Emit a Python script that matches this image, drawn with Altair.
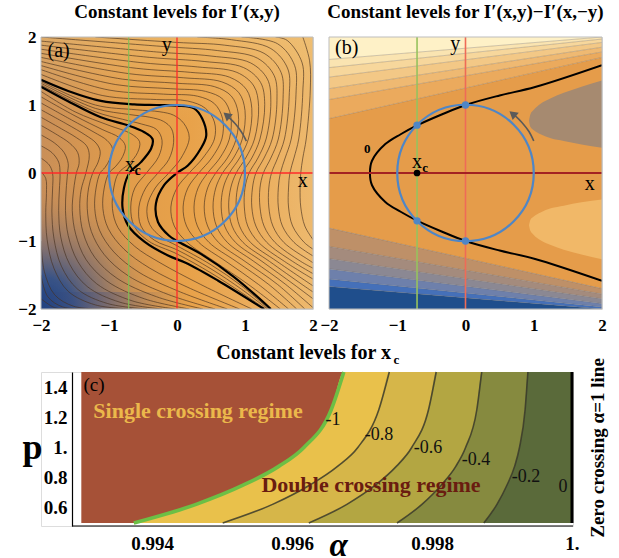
import altair as alt
import pandas as pd

SERIF = "Liberation Serif"

# ======================= shared geometry =======================
BOX = [-2.0, 2.0]
TICKS_AB = [-2, -1, 0, 1, 2]
XC = -0.71
CIRCLE_R = 1.0
W_A, H_A = 272, 272
W_B, H_B = 273, 272
TITLE_Y = 2.28          # baseline of the panel titles (data units above the box)

# ======================= panel (a) data =======================
thickA_x = [-2.0, -1.61, -1.12, -0.63, -0.30, 0.0, 0.25, 0.37, 0.43, 0.35, 0.16, 0.0, -0.19, -0.31, -0.28, -0.12, 0.0, 0.35, 0.84, 1.38]
thickA_y = [1.37, 1.21, 1.06, 1.01, 1.00, 0.99, 0.95, 0.80, 0.55, 0.36, 0.11, 0.0, -0.18, -0.45, -0.72, -0.92, -1.0, -1.19, -1.53, -2.0]
thickB_x = [-2.0, -1.61, -1.12, -0.72, -0.48, -0.36, -0.38, -0.53, -0.70, -0.78, -0.80, -0.72, -0.48, -0.14, 0.15, 0.60, 1.28]
thickB_y = [1.27, 1.06, 0.82, 0.70, 0.60, 0.50, 0.36, 0.16, 0.0, -0.22, -0.52, -0.77, -1.01, -1.21, -1.33, -1.58, -2.0]

thinR_x = [
    [-2, -1.1, -0.3, 0.15, 0.42, 0.55, 0.55, 0.38, 0.18, 0.0, -0.09, -0.04, 0.15, 0.55, 1.05, 1.52],
    [-2, -1.0, -0.2, 0.30, 0.55, 0.67, 0.66, 0.51, 0.32, 0.16, 0.09, 0.14, 0.32, 0.72, 1.20, 1.64],
    [-2, -0.9, -0.1, 0.42, 0.68, 0.79, 0.77, 0.63, 0.45, 0.31, 0.25, 0.30, 0.47, 0.87, 1.35, 1.76],
    [-2, -0.8, 0.0, 0.55, 0.80, 0.90, 0.87, 0.74, 0.57, 0.45, 0.40, 0.45, 0.61, 1.00, 1.48, 1.88],
    [-2, -0.7, 0.1, 0.66, 0.91, 1.00, 0.96, 0.83, 0.67, 0.57, 0.53, 0.58, 0.74, 1.13, 1.60, 2.0],
    [-2, -0.6, 0.2, 0.77, 1.02, 1.10, 1.05, 0.92, 0.77, 0.68, 0.65, 0.70, 0.86, 1.25, 1.72, 2.0],
    [-2, -0.5, 0.3, 0.88, 1.13, 1.20, 1.14, 1.01, 0.87, 0.79, 0.76, 0.81, 0.97, 1.36, 1.84, 2.0],
    [-2, -0.4, 0.4, 0.98, 1.23, 1.29, 1.22, 1.10, 0.96, 0.89, 0.87, 0.92, 1.08, 1.47, 2.0],
    [-2, -0.3, 0.5, 1.08, 1.33, 1.38, 1.31, 1.19, 1.06, 1.00, 0.99, 1.04, 1.20, 1.58, 2.0],
    [-2, -0.2, 0.6, 1.18, 1.43, 1.47, 1.40, 1.28, 1.16, 1.11, 1.10, 1.16, 1.32, 1.70, 2.0],
    [-1.2, 0.0, 0.7, 1.28, 1.53, 1.56, 1.49, 1.38, 1.27, 1.22, 1.22, 1.28, 1.44, 1.82, 2.0],
    [0.3, 0.8, 1.38, 1.63, 1.65, 1.58, 1.48, 1.39, 1.35, 1.35, 1.41, 1.57, 1.94, 2.0],
    [0.95, 1.48, 1.73, 1.75, 1.68, 1.59, 1.52, 1.49, 1.49, 1.55, 1.72, 2.0],
    [1.45, 1.62, 1.84, 1.85, 1.79, 1.72, 1.66, 1.64, 1.64, 1.70, 1.87, 2.0],
    [1.85, 1.95, 1.96, 1.90, 1.85, 1.82, 1.81, 1.82, 1.88, 2.0],
]
thinR_y = [
    [1.45, 1.14, 1.08, 1.06, 0.95, 0.75, 0.50, 0.22, 0.0, -0.22, -0.50, -0.78, -1.02, -1.30, -1.64, -2.0],
    [1.52, 1.22, 1.16, 1.13, 1.02, 0.80, 0.50, 0.22, 0.0, -0.22, -0.50, -0.78, -1.02, -1.30, -1.64, -2.0],
    [1.58, 1.30, 1.24, 1.20, 1.08, 0.84, 0.50, 0.22, 0.0, -0.22, -0.50, -0.78, -1.02, -1.30, -1.64, -2.0],
    [1.64, 1.38, 1.32, 1.27, 1.13, 0.88, 0.50, 0.22, 0.0, -0.22, -0.50, -0.78, -1.02, -1.30, -1.64, -2.0],
    [1.70, 1.46, 1.40, 1.34, 1.18, 0.92, 0.50, 0.22, 0.0, -0.22, -0.50, -0.78, -1.02, -1.30, -1.64, -1.98],
    [1.76, 1.54, 1.48, 1.41, 1.23, 0.95, 0.50, 0.22, 0.0, -0.22, -0.50, -0.78, -1.02, -1.30, -1.64, -1.85],
    [1.82, 1.62, 1.56, 1.48, 1.28, 0.98, 0.50, 0.22, 0.0, -0.22, -0.50, -0.78, -1.02, -1.30, -1.64, -1.75],
    [1.88, 1.70, 1.64, 1.55, 1.33, 1.01, 0.50, 0.22, 0.0, -0.22, -0.50, -0.78, -1.02, -1.30, -1.66],
    [1.94, 1.78, 1.72, 1.62, 1.38, 1.04, 0.50, 0.22, 0.0, -0.22, -0.50, -0.78, -1.02, -1.30, -1.56],
    [2.0, 1.86, 1.80, 1.69, 1.43, 1.07, 0.50, 0.22, 0.0, -0.22, -0.50, -0.78, -1.02, -1.30, -1.48],
    [2.0, 1.92, 1.88, 1.76, 1.48, 1.10, 0.50, 0.22, 0.0, -0.22, -0.50, -0.78, -1.02, -1.30, -1.40],
    [2.0, 1.96, 1.83, 1.53, 1.13, 0.50, 0.22, 0.0, -0.22, -0.50, -0.78, -1.02, -1.28, -1.32],
    [2.0, 1.90, 1.58, 1.16, 0.50, 0.22, 0.0, -0.22, -0.50, -0.78, -1.02, -1.22],
    [2.0, 1.95, 1.62, 1.19, 0.50, 0.22, 0.0, -0.22, -0.50, -0.78, -1.02, -1.12],
    [2.0, 1.65, 1.22, 0.50, 0.22, 0.0, -0.22, -0.50, -0.78, -0.98],
]
thinM_x = [
    [-2, -1.2, -0.6, -0.25, -0.05, 0.10, 0.18, 0.06, -0.12, -0.32, -0.44, -0.40, -0.22, 0.0, 0.50, 0.95, 1.35],
    [-2, -1.2, -0.7, -0.40, -0.20, -0.08, -0.05, -0.12, -0.28, -0.46, -0.56, -0.53, -0.33, 0.0, 0.50, 0.95, 1.33],
    [-2, -1.2, -0.8, -0.52, -0.30, -0.22, -0.27, -0.45, -0.62, -0.68, -0.63, -0.42, 0.0, 0.50, 0.95, 1.30],
]
thinM_y = [
    [1.345, 1.00, 0.93, 0.90, 0.85, 0.73, 0.52, 0.22, 0.0, -0.22, -0.50, -0.76, -0.95, -1.07, -1.35, -1.66, -2.0],
    [1.32, 0.95, 0.86, 0.82, 0.76, 0.65, 0.45, 0.20, 0.0, -0.22, -0.50, -0.78, -0.99, -1.13, -1.41, -1.71, -2.0],
    [1.295, 0.90, 0.79, 0.72, 0.64, 0.48, 0.24, 0.0, -0.22, -0.50, -0.78, -1.00, -1.19, -1.47, -1.76, -2.0],
]
thinL_x = [
    [-2, -1.5, -1.0, -0.68, -0.55, -0.58, -0.70, -0.86, -0.93, -0.95, -0.87, -0.62, -0.25, 0.35, 1.10],
    [-2, -1.5, -1.1, -0.85, -0.76, -0.80, -0.90, -1.00, -1.07, -1.09, -1.01, -0.78, -0.40, 0.20, 0.92],
    [-2, -1.55, -1.22, -1.03, -0.95, -0.99, -1.06, -1.13, -1.19, -1.21, -1.14, -0.93, -0.56, 0.05, 0.74],
    [-2, -1.62, -1.35, -1.19, -1.13, -1.16, -1.24, -1.30, -1.32, -1.26, -1.07, -0.72, -0.12, 0.56],
    [-2, -1.70, -1.48, -1.33, -1.29, -1.34, -1.41, -1.43, -1.38, -1.21, -0.88, -0.30, 0.38],
    [-2, -1.76, -1.58, -1.46, -1.44, -1.48, -1.52, -1.54, -1.49, -1.34, -1.03, -0.48, 0.18],
    [-2, -1.80, -1.66, -1.60, -1.61, -1.63, -1.64, -1.60, -1.46, -1.18, -0.66, -0.02],
    [-2, -1.84, -1.74, -1.72, -1.73, -1.74, -1.71, -1.58, -1.32, -0.84, -0.22],
    [-2, -1.88, -1.83, -1.83, -1.84, -1.81, -1.70, -1.46, -1.02, -0.44],
    [-2, -1.93, -1.92, -1.93, -1.91, -1.81, -1.60, -1.20, -0.66],
    [-2, -1.95, -1.80, -1.52, -1.12],
    [-2, -1.90, -1.68, -1.36],
    [-2, -1.80, -1.62],
]
thinL_y = [
    [1.20, 0.90, 0.70, 0.58, 0.46, 0.30, 0.14, 0.0, -0.22, -0.52, -0.80, -1.08, -1.32, -1.64, -2.0],
    [1.12, 0.84, 0.64, 0.52, 0.40, 0.24, 0.10, 0.0, -0.22, -0.52, -0.82, -1.12, -1.40, -1.70, -2.0],
    [1.03, 0.78, 0.60, 0.48, 0.36, 0.20, 0.08, 0.0, -0.22, -0.52, -0.84, -1.16, -1.46, -1.75, -2.0],
    [0.93, 0.72, 0.56, 0.44, 0.32, 0.16, 0.0, -0.22, -0.52, -0.86, -1.20, -1.51, -1.79, -2.0],
    [0.82, 0.65, 0.52, 0.40, 0.26, 0.0, -0.25, -0.52, -0.88, -1.24, -1.55, -1.82, -2.0],
    [0.70, 0.56, 0.44, 0.30, 0.14, 0.0, -0.25, -0.55, -0.90, -1.27, -1.59, -1.85, -2.0],
    [0.56, 0.44, 0.30, 0.14, 0.0, -0.25, -0.55, -0.92, -1.30, -1.63, -1.88, -2.0],
    [0.40, 0.30, 0.16, 0.0, -0.25, -0.55, -0.94, -1.34, -1.67, -1.90, -2.0],
    [0.22, 0.12, 0.0, -0.25, -0.56, -0.96, -1.37, -1.71, -1.92, -2.0],
    [0.02, -0.08, -0.30, -0.58, -0.98, -1.40, -1.74, -1.94, -2.0],
    [-1.0, -1.45, -1.79, -1.96, -2.0],
    [-1.5, -1.82, -1.97, -2.0],
    [-1.85, -1.98, -2.0],
]
arrowA_x = [1.02, 0.95, 0.86, 0.77]
arrowA_y = [0.47, 0.60, 0.72, 0.81]
arrowA_head = (0.73, 0.85)

# ======================= panel (b) data =======================
bTopL = [0.80, 1.08, 1.24, 1.41, 1.55, 1.67]
bTopR = [1.70, 1.78, 1.85, 1.92, 1.97, 2.00]
bBotL = [-0.81, -1.08, -1.26, -1.41, -1.56, -1.67]
bBotR = [-1.70, -1.78, -1.85, -1.92, -1.97, -2.00]
zero_x = [2.0, 1.02, 0.5, 0.0, -0.35, -0.71, -0.95, -1.175, -1.37, -1.40, -1.37, -1.175, -0.95, -0.71, -0.35, 0.0, 0.5, 1.02, 2.0]
zero_y = [1.585, 1.264, 1.14, 1.0, 0.86, 0.70, 0.57, 0.425, 0.18, 0.0, -0.18, -0.425, -0.57, -0.70, -0.86, -1.0, -1.14, -1.264, -1.585]
blob_x = [0.93, 0.95, 1.0, 1.1, 1.25, 1.44, 1.7, 2.0]
blobU_top = [0.77, 0.86, 0.93, 1.02, 1.10, 1.18, 1.27, 1.36]
blobU_bot = [0.77, 0.68, 0.63, 0.57, 0.51, 0.47, 0.42, 0.37]
blobL_top = [-0.77, -0.69, -0.64, -0.58, -0.52, -0.48, -0.43, -0.39]
blobL_bot = [-0.77, -0.85, -0.91, -0.99, -1.06, -1.13, -1.20, -1.27]
cross_x = [0.0, 0.0, XC, XC]
cross_y = [1.0, -1.0, 0.704, -0.704]
arrowB_x = [1.00, 0.93, 0.83, 0.73]
arrowB_y = [0.47, 0.61, 0.74, 0.84]
arrowB_head = (0.69, 0.87)

# ======================= panel (c) data =======================
P_GRID = [0.5, 0.625, 0.75, 0.875, 1.0, 1.25, 1.5]
LEVELS = ["-1", "-0.8", "-0.6", "-0.4", "-0.2", "0"]
LEVEL_ALPHA = [
    [0.99374, 0.99464, 0.99530, 0.99581, 0.99617, 0.99656, 0.99674],
    [0.99501, 0.99573, 0.99625, 0.99665, 0.99694, 0.99724, 0.99739],
    [0.99624, 0.99679, 0.99719, 0.99749, 0.99771, 0.99795, 0.99806],
    [0.99750, 0.99786, 0.99813, 0.99834, 0.99848, 0.99864, 0.99871],
    [0.99874, 0.99893, 0.99907, 0.99918, 0.99925, 0.99933, 0.99937],
    [1.0, 1.0, 1.0, 1.0, 1.0, 1.0, 1.0],
]
ALPHA_LEFT = 0.99299
C_XDOM = [0.992414, 1.0000143]
C_YDOM = [0.4801, 1.5]
ALPHA_AXIS = 0.992857
LABEL_A = [0.996586, 0.997243, 0.997943, 0.998629, 0.999343, 0.999871]
LABEL_P = [1.182, 1.083, 0.997, 0.917, 0.805, 0.738]

# ======================= helpers =======================
def line_table(xs_list, ys_list, tag):
    rows = []
    for k, (xs, ys) in enumerate(zip(xs_list, ys_list)):
        for i, (x, y) in enumerate(zip(xs, ys)):
            rows.append({"id": f"{tag}{k}", "i": i, "x": x, "y": y})
    return pd.DataFrame(rows)


def text_df(xs, ys, ts):
    return pd.DataFrame({"x": xs, "y": ys, "t": ts})


ax_common = dict(grid=False, ticks=False, domain=False, title=None, labelFont=SERIF,
                 labelFontSize=17, labelFontWeight="bold", labelColor="black",
                 labelFlush=False, labelOverlap=False, values=TICKS_AB, format="d")

box_df = pd.DataFrame({"x0": [BOX[0]], "x1": [BOX[1]], "y0": [BOX[0]], "y1": [BOX[1]]})
center_df = pd.DataFrame({"x": [0.0], "y": [0.0]})


def vline(X, Y, xv, color, width):
    return alt.Chart(pd.DataFrame({"x": [xv], "y0": [BOX[0]], "y1": [BOX[1]]})).mark_rule(
        color=color, strokeWidth=width).encode(x=X("x"), y=Y("y0"), y2="y1")


def hline(X, Y, yv, color, width):
    return alt.Chart(pd.DataFrame({"y": [yv], "x0": [BOX[0]], "x1": [BOX[1]]})).mark_rule(
        color=color, strokeWidth=width).encode(y=Y("y"), x=X("x0"), x2="x1")


def title_mark(X, Y, text):
    return alt.Chart(text_df([0.0], [TITLE_Y], [text])).mark_text(
        font=SERIF, fontSize=19, fontWeight="bold", baseline="alphabetic", color="black").encode(
        x=X("x"), y=Y("y"), text="t:N")


def panel_common(X, Y, arrow_x, arrow_y, head, circle_size):
    arrow = alt.Chart(pd.DataFrame({"x": arrow_x, "y": arrow_y, "i": list(range(len(arrow_x)))})).mark_line(
        color="#5A5A5A", strokeWidth=1.6, interpolate="catmull-rom").encode(x=X("x"), y=Y("y"), order="i:Q")
    head_c = alt.Chart(pd.DataFrame({"x": [head[0]], "y": [head[1]]})).mark_point(
        shape="triangle-up", filled=True, size=90, angle=310, color="#5A5A5A", opacity=1).encode(x=X("x"), y=Y("y"))
    circ = alt.Chart(center_df).mark_point(shape="circle", filled=False, size=circle_size,
                                           color="#4F86C6", strokeWidth=2.2, opacity=1).encode(x=X("x"), y=Y("y"))
    frame = alt.Chart(box_df).mark_rect(fill="white", fillOpacity=0, stroke="#BDBDBD", strokeWidth=1).encode(
        x=X("x0"), x2="x1", y=Y("y0"), y2="y1")
    return circ, arrow, head_c, frame


# ======================= panel (a) =======================
sxa = alt.Scale(domain=BOX, nice=False, zero=False)
sya = alt.Scale(domain=BOX, nice=False, zero=False)
axa_x = alt.Axis(labelPadding=8, **ax_common)
axa_y = alt.Axis(labelPadding=5, **ax_common)
XA = lambda f: alt.X(f, type="quantitative", scale=sxa, axis=axa_x)
YA = lambda f: alt.Y(f, type="quantitative", scale=sya, axis=axa_y)

grad_base = alt.LinearGradient(gradient="linear", x1=0, y1=0, x2=1, y2=0, stops=[
    alt.GradientStop(offset=0, color="#C98F58"), alt.GradientStop(offset=0.3, color="#E19C4A"),
    alt.GradientStop(offset=0.55, color="#E8A24A"), alt.GradientStop(offset=0.8, color="#EBAE5E"),
    alt.GradientStop(offset=1, color="#EDB96E")])
grad_top = alt.LinearGradient(gradient="linear", x1=0, y1=0, x2=0, y2=1, stops=[
    alt.GradientStop(offset=0, color="rgba(240,196,120,0.5)"),
    alt.GradientStop(offset=0.3, color="rgba(235,180,100,0)"),
    alt.GradientStop(offset=1, color="rgba(235,180,100,0)")])
grad_blue = alt.RadialGradient(gradient="radial", x1=0, y1=1, r1=0, x2=0, y2=1, r2=1, stops=[
    alt.GradientStop(offset=0, color="rgba(24,60,128,1)"),
    alt.GradientStop(offset=0.12, color="rgba(45,78,138,0.92)"),
    alt.GradientStop(offset=0.25, color="rgba(105,100,118,0.6)"),
    alt.GradientStop(offset=0.4, color="rgba(175,130,95,0.22)"),
    alt.GradientStop(offset=0.55, color="rgba(220,150,80,0)"),
    alt.GradientStop(offset=1, color="rgba(220,150,80,0)")])
grad_bottom = alt.LinearGradient(gradient="linear", x1=0, y1=0, x2=1, y2=0, stops=[
    alt.GradientStop(offset=0, color="rgba(40,70,130,0.55)"),
    alt.GradientStop(offset=0.3, color="rgba(90,90,120,0.35)"),
    alt.GradientStop(offset=0.55, color="rgba(150,120,100,0)"),
    alt.GradientStop(offset=1, color="rgba(150,120,100,0)")])
bottom_strip = pd.DataFrame({"x0": [BOX[0]], "x1": [BOX[1]], "y0": [BOX[0]], "y1": [-1.75]})

bg_a = [alt.Chart(box_df).mark_rect(color=g).encode(x=XA("x0"), x2="x1", y=YA("y0"), y2="y1")
        for g in (grad_base, grad_top, grad_blue)]
bg_a.append(alt.Chart(bottom_strip).mark_rect(color=grad_bottom).encode(x=XA("x0"), x2="x1", y=YA("y0"), y2="y1"))

thin_a = pd.concat([line_table(thinR_x, thinR_y, "R"), line_table(thinM_x, thinM_y, "M"),
                    line_table(thinL_x, thinL_y, "L")])
thin_a_layer = alt.Chart(thin_a).mark_line(interpolate="catmull-rom", clip=True, color="#45301E",
                                           strokeWidth=0.8, opacity=0.8).encode(
    x=XA("x"), y=YA("y"), detail="id:N", order="i:Q")
thick_a = line_table([thickA_x, thickB_x], [thickA_y, thickB_y], "T")
thick_a_layer = alt.Chart(thick_a).mark_line(interpolate="catmull-rom", clip=True, color="black",
                                             strokeWidth=2.2).encode(
    x=XA("x"), y=YA("y"), detail="id:N", order="i:Q")

size_a = (2 * CIRCLE_R * W_A / (BOX[1] - BOX[0])) ** 2
circ_a, arrow_a, head_a, frame_a = panel_common(XA, YA, arrowA_x, arrowA_y, arrowA_head, size_a)

txt_a = alt.Chart(text_df([-1.74, -0.15, 1.85, -0.69], [1.80, 1.88, -0.12, 0.12], ["(a)", "y", "x", "x"])).mark_text(
    font=SERIF, fontSize=20, color="black").encode(x=XA("x"), y=YA("y"), text="t:N")
sub_a = alt.Chart(text_df([-0.58], [0.03], ["c"])).mark_text(
    font=SERIF, fontSize=14, fontWeight="bold", color="black").encode(x=XA("x"), y=YA("y"), text="t:N")

panel_a = alt.layer(*bg_a, thin_a_layer, thick_a_layer,
                    vline(XA, YA, XC, "#7FBF55", 1.1), vline(XA, YA, 0.0, "#FF2A2A", 1.3),
                    hline(XA, YA, 0.0, "#FF2A2A", 1.3),
                    circ_a, arrow_a, head_a, txt_a, sub_a, frame_a,
                    title_mark(XA, YA, "Constant levels for I\u2032(x,y)")).properties(width=W_A, height=H_A)

# ======================= panel (b) =======================
sxb = alt.Scale(domain=BOX, nice=False, zero=False)
syb = alt.Scale(domain=BOX, nice=False, zero=False)
axb_x = alt.Axis(labelPadding=8, **ax_common)
XB = lambda f: alt.X(f, type="quantitative", scale=sxb, axis=axb_x)
YB = lambda f: alt.Y(f, type="quantitative", scale=syb, axis=None)

top_cols = ["#EBAA5D", "#EFB972", "#F3C886", "#F7D79C", "#FAE4B1", "#FEF1C7"]
bot_cols = ["#BE9068", "#A48B7D", "#8B8893", "#6E80AB", "#4570B9", "#1F4E8C"]
main_col = "#E59C4A"
band_rows = []
band_names, band_colors = ["main"], [main_col]
for xi, side in ((BOX[0], 0), (BOX[1], 1)):
    tl = bTopL if side == 0 else bTopR
    bl = bBotL if side == 0 else bBotR
    band_rows.append({"band": "main", "x": xi, "lo": bl[0], "hi": tl[0]})
    for k in range(6):
        hi_t = tl[k + 1] if k + 1 < 6 else BOX[1]
        band_rows.append({"band": f"t{k}", "x": xi, "lo": tl[k], "hi": hi_t})
        lo_b = bl[k + 1] if k + 1 < 6 else BOX[0]
        band_rows.append({"band": f"b{k}", "x": xi, "lo": lo_b, "hi": bl[k]})
for k in range(6):
    band_names += [f"t{k}", f"b{k}"]
    band_colors += [top_cols[k], bot_cols[k]]
bands_b = alt.Chart(pd.DataFrame(band_rows)).mark_area(clip=True, opacity=1).encode(
    x=XB("x"), y=YB("lo"), y2="hi",
    color=alt.Color("band:N", scale=alt.Scale(domain=band_names, range=band_colors), legend=None))

blobU = alt.Chart(pd.DataFrame({"x": blob_x, "hi": blobU_top, "lo": blobU_bot})).mark_area(
    clip=True, interpolate="monotone", color="#A68A70", opacity=1).encode(x=XB("x"), y=YB("lo"), y2="hi")
blobL = alt.Chart(pd.DataFrame({"x": blob_x, "hi": blobL_top, "lo": blobL_bot})).mark_area(
    clip=True, interpolate="monotone", color="#F1B868", opacity=1).encode(x=XB("x"), y=YB("lo"), y2="hi")

blines = line_table([[BOX[0], BOX[1]]] * 12, [[a, b] for a, b in zip(bTopL + bBotL, bTopR + bBotR)], "B")
blines_b = alt.Chart(blines).mark_line(clip=True, color="#6E6256", strokeWidth=0.6, opacity=0.55).encode(
    x=XB("x"), y=YB("y"), detail="id:N", order="i:Q")
zero_b = alt.Chart(line_table([zero_x], [zero_y], "Z")).mark_line(
    clip=True, color="black", strokeWidth=2.0, interpolate="catmull-rom").encode(
    x=XB("x"), y=YB("y"), order="i:Q")

size_b = (2 * CIRCLE_R * W_B / (BOX[1] - BOX[0])) ** 2
circ_b, arrow_b, head_b, frame_b = panel_common(XB, YB, arrowB_x, arrowB_y, arrowB_head, size_b)
dots_b = alt.Chart(pd.DataFrame({"x": cross_x, "y": cross_y})).mark_point(
    shape="circle", filled=True, size=55, color="#4F86C6", opacity=1).encode(x=XB("x"), y=YB("y"))
xc_dot = alt.Chart(pd.DataFrame({"x": [XC], "y": [0.0]})).mark_point(
    shape="circle", filled=True, size=45, color="black", opacity=1).encode(x=XB("x"), y=YB("y"))

txt_b = alt.Chart(text_df([-1.74, -0.15, 1.82, -0.71], [1.84, 1.90, -0.16, 0.16], ["(b)", "y", "x", "x"])).mark_text(
    font=SERIF, fontSize=20, color="black").encode(x=XB("x"), y=YB("y"), text="t:N")
sub_b = alt.Chart(text_df([-0.59, -1.44], [0.08, 0.36], ["c", "0"])).mark_text(
    font=SERIF, fontSize=13, fontWeight="bold", color="black").encode(x=XB("x"), y=YB("y"), text="t:N")

panel_b = alt.layer(bands_b, blobU, blobL, blines_b, zero_b,
                    vline(XB, YB, XC, "#97C25E", 1.6), vline(XB, YB, 0.0, "#EE6B57", 1.6),
                    hline(XB, YB, 0.0, "#A32222", 2.2),
                    circ_b, dots_b, xc_dot, arrow_b, head_b, txt_b, sub_b, frame_b,
                    title_mark(XB, YB, "Constant levels for I\u2032(x,y)\u2212I\u2032(x,\u2212y)")).properties(
    width=W_B, height=H_B)

# ======================= panel (c) =======================
W_C, H_C = 532, 154
sxc = alt.Scale(domain=C_XDOM, nice=False, zero=False)
syc = alt.Scale(domain=C_YDOM, nice=False, zero=False)
axc_x = alt.Axis(values=[0.994, 0.996, 0.998, 1.0],
                 labelExpr="datum.value == 1 ? '1.' : format(datum.value, '.3f')",
                 grid=False, ticks=False, domain=False, labelFont=SERIF, labelFontSize=19,
                 labelFontWeight="bold", labelColor="black", labelPadding=8, labelFlush=False,
                 labelOverlap=False, title="\u03b1", titleFont=SERIF, titleFontSize=33,
                 titleFontWeight="bold", titleFontStyle="italic", titleX=297, titleY=19,
                 titleBaseline="middle", titleAlign="center", titleColor="black")
axc_y = alt.Axis(values=[0.6, 0.8, 1.0, 1.2, 1.4],
                 labelExpr="datum.value == 1 ? '1.' : format(datum.value, '.1f')",
                 offset=-31, grid=False, ticks=False, domain=True, domainColor="black", domainWidth=1.2,
                 labelFont=SERIF, labelFontSize=19, labelFontWeight="bold", labelColor="black",
                 labelPadding=5, labelOverlap=False, title="p", titleAngle=0, titleX=-40, titleY=86,
                 titleFont=SERIF, titleFontSize=36, titleFontWeight="bold", titleBaseline="alphabetic",
                 titleAlign="center", titleColor="black")
XC_ = lambda f: alt.X(f, type="quantitative", scale=sxc, axis=axc_x)
YC_ = lambda f: alt.Y(f, type="quantitative", scale=syc, axis=axc_y)

brown_c = alt.Chart(pd.DataFrame({"a0": [ALPHA_LEFT], "a1": [1.0], "p0": [P_GRID[0]], "p1": [P_GRID[-1]]})).mark_rect(
    color="#A65137").encode(x=XC_("a0"), x2="a1", y=YC_("p0"), y2="p1")
fill_cols_c = ["#E9C14B", "#D6B649", "#B3A642", "#868A3F", "#5A6A3A"]
fills_c = []
for k in range(5):
    df = pd.DataFrame({"a": LEVEL_ALPHA[k] + [1.0], "p": P_GRID + [P_GRID[-1]],
                       "base": [P_GRID[0]] * (len(P_GRID) + 1)})
    fills_c.append(alt.Chart(df).mark_area(color=fill_cols_c[k], interpolate="monotone", clip=True, opacity=1).encode(
        x=XC_("a"), y=YC_("p"), y2="base"))

lev_rows = []
for k, name in enumerate(LEVELS[1:5]):
    for j, p in enumerate(P_GRID):
        lev_rows.append({"lev": name, "p": p, "a": LEVEL_ALPHA[k + 1][j]})
lines_c = alt.Chart(pd.DataFrame(lev_rows)).mark_line(interpolate="monotone", color="#3A3A2A",
                                                      strokeWidth=1.6, opacity=0.85).encode(
    x=XC_("a"), y=YC_("p"), detail="lev:N", order="a:Q")
green_c = alt.Chart(pd.DataFrame({"p": P_GRID, "a": LEVEL_ALPHA[0]})).mark_line(
    interpolate="monotone", color="#6CBF45", strokeWidth=3.6).encode(x=XC_("a"), y=YC_("p"), order="a:Q")
one_c = alt.Chart(pd.DataFrame({"a": [1.0], "p0": [P_GRID[0]], "p1": [P_GRID[-1]]})).mark_rule(
    color="black", strokeWidth=3).encode(x=XC_("a"), y=YC_("p0"), y2="p1")
base_c = alt.Chart(pd.DataFrame({"a0": [ALPHA_AXIS], "a1": [C_XDOM[1]], "p": [C_YDOM[0]]})).mark_rule(
    color="black", strokeWidth=1.2).encode(x=XC_("a0"), x2="a1", y=YC_("p"))

lab_c = alt.Chart(pd.DataFrame({"a": LABEL_A, "p": LABEL_P, "t": LEVELS})).mark_text(
    font=SERIF, fontSize=18, color="#111111").encode(x=XC_("a"), y=YC_("p"), text="t:N")
single_c = alt.Chart(pd.DataFrame({"a": [0.994657], "p": [1.242], "t": ["Single crossing regime"]})).mark_text(
    font=SERIF, fontSize=22, fontWeight="bold", color="#EBB84B").encode(x=XC_("a"), y=YC_("p"), text="t:N")
double_c = alt.Chart(pd.DataFrame({"a": [0.997129], "p": [0.752], "t": ["Double crossing regime"]})).mark_text(
    font=SERIF, fontSize=22, fontWeight="bold", color="#6A1C10").encode(x=XC_("a"), y=YC_("p"), text="t:N")
tag_c = alt.Chart(pd.DataFrame({"a": [0.993171], "p": [1.414], "t": ["(c)"]})).mark_text(
    font=SERIF, fontSize=19, color="black").encode(x=XC_("a"), y=YC_("p"), text="t:N")
title_c = alt.Chart(pd.DataFrame({"a": [0.997414], "p": [1.586], "t": ["Constant levels for  x"]})).mark_text(
    font=SERIF, fontSize=20, fontWeight="bold", align="right", baseline="alphabetic", color="black").encode(
    x=XC_("a"), y=YC_("p"), text="t:N")
title_c_sub = alt.Chart(pd.DataFrame({"a": [0.997450], "p": [1.553], "t": ["c"]})).mark_text(
    font=SERIF, fontSize=13, fontWeight="bold", align="left", baseline="alphabetic", color="black").encode(
    x=XC_("a"), y=YC_("p"), text="t:N")
side_c = alt.Chart(pd.DataFrame({"a": [1.00037], "p": [0.997], "t": ["Zero crossing \u03b1=1 line"]})).mark_text(
    font=SERIF, fontSize=19, fontWeight="bold", angle=270, color="black").encode(
    x=XC_("a"), y=YC_("p"), text="t:N")

panel_c = alt.layer(brown_c, *fills_c, lines_c, green_c, one_c, base_c, lab_c, single_c, double_c,
                    tag_c, title_c, title_c_sub, side_c).properties(width=W_C, height=H_C)

# ======================= assemble =======================
top_row = alt.hconcat(panel_a, panel_b, spacing=1)
chart = alt.vconcat(top_row, panel_c, spacing=8).properties(
    padding={"left": 17, "top": 2, "right": 0, "bottom": 0}
).configure_view(strokeWidth=0).configure(background="white")

chart.save("out.html", embed_options={"renderer": "svg", "actions": False})
